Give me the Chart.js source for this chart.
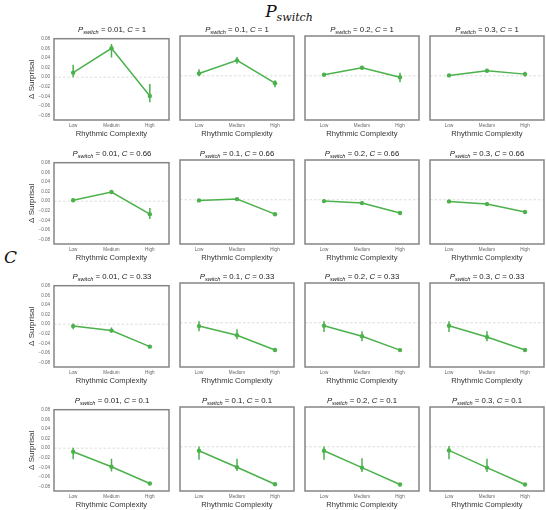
<!DOCTYPE html>
<html>
<head>
<meta charset="utf-8">
<script src="https://cdn.jsdelivr.net/npm/chart.js@4.4.1/dist/chart.umd.min.js"></script>
<style>
  body { margin: 0; background: #fff; }
  #fig { position: relative; width: 546px; height: 510px; overflow: hidden; font-family: "Liberation Sans", Arial, sans-serif; }
  #fig canvas { position: absolute; }
  .ttl { position: absolute; width: 140px; text-align: center; font-size: 7.8px; line-height: 10px; color: #222; white-space: nowrap; }
  .ttl sub { font-size: 5.6px; vertical-align: -2px; line-height: 0; }
  #supT { position: absolute; left: 229px; width: 120px; top: 0; text-align: center; font-family: "DejaVu Serif", serif; font-style: italic; font-size: 17px; line-height: 22px; color: #111; }
  #supT sub { font-size: 11px; vertical-align: -4px; line-height: 0; }
  #supL { position: absolute; left: 4px; top: 246px; font-family: "DejaVu Serif", serif; font-style: italic; font-size: 17px; line-height: 22px; color: #111; }
</style>
</head>
<body>
<div id="fig">
  <div id="supT">P<sub>switch</sub></div>
  <div id="supL">C</div>
</div>
<script>
const categories = ['Low', 'Medium', 'High'];
const pSwitch = ['0.01', '0.1', '0.2', '0.3'];
const cValues = ['1', '0.66', '0.33', '0.1'];
const yTicks = [0.08, 0.06, 0.04, 0.02, 0, -0.02, -0.04, -0.06, -0.08];

// one inner list per P_switch column: Low, Medium, High
const meanC1 = [[0.0094, 0.060, -0.039], [0.0047, 0.031, -0.015], [0.002, 0.016, -0.003], [0.0007, 0.010, 0.0033]];
const loC1   = [[0.0, 0.041, -0.052], [-0.001, 0.024, -0.023], [0.0, 0.014, -0.013], [-0.001, 0.008, -0.002]];
const hiC1   = [[0.026, 0.069, -0.014], [0.013, 0.038, -0.009], [0.004, 0.018, 0.006], [0.002, 0.012, 0.008]];

const meanC066 = [[0.002, 0.019, -0.027], [-0.0013, 0.0013, -0.029], [-0.0027, -0.0067, -0.0267], [-0.0033, -0.0087, -0.0247]];
const loC066   = [[-0.001, 0.017, -0.037], [-0.003, -0.001, -0.032], [-0.0057, -0.0097, -0.029], [-0.006, -0.012, -0.027]];
const hiC066   = [[0.006, 0.021, -0.014], [0.0005, 0.003, -0.026], [0.0003, -0.0037, -0.0245], [-0.0005, -0.0055, -0.0225]];

const meanC033 = [[-0.004, -0.0133, -0.0467], [-0.0067, -0.025, -0.0547], [-0.006, -0.027, -0.055], [-0.006, -0.0287, -0.0547]];
const loC033   = [[-0.0107, -0.0173, -0.049], [-0.0173, -0.033, -0.057], [-0.0187, -0.037, -0.057], [-0.0187, -0.0373, -0.057]];
const hiC033   = [[0.0013, -0.0067, -0.0445], [0.003, -0.0133, -0.0525], [0.003, -0.017, -0.053], [0.003, -0.017, -0.0525]];

const meanC01 = [[-0.0073, -0.0387, -0.0733], [-0.008, -0.0413, -0.0753], [-0.008, -0.042, -0.076], [-0.0073, -0.042, -0.076]];
const loC01   = [[-0.023, -0.0487, -0.0755], [-0.026, -0.049, -0.0775], [-0.026, -0.0507, -0.078], [-0.0253, -0.0507, -0.078]];
const hiC01   = [[0.0007, -0.022, -0.071], [0.0007, -0.024, -0.073], [0.0007, -0.0233, -0.074], [0.0013, -0.024, -0.074]];

const rows = [
    { mean: meanC1, lo: loC1, hi: hiC1 },
    { mean: meanC066, lo: loC066, hi: hiC066 },
    { mean: meanC033, lo: loC033, hi: hiC033 },
    { mean: meanC01, lo: loC01, hi: hiC01 },
];

const boxLeft = [54, 179, 304, 429];
const boxTop = [36, 160, 283, 407];
const boxW = 116, boxH = 84;
const padTop = 4, padRight = 3, xAxisH = 22;
const green = '#4bb14b';

const frame = {
    id: 'frame',
    afterDatasetsDraw(chart) {
        const { ctx, chartArea: a } = chart;
        ctx.save();
        ctx.strokeStyle = '#858585';
        ctx.lineWidth = 1.5;
        ctx.strokeRect(a.left, a.top, a.right - a.left, a.bottom - a.top);
        ctx.restore();
    }
};

const fig = document.getElementById('fig');

function fmtY(v) {
    return (v < 0 ? '\u2212' : '') + Math.abs(v).toFixed(2);
}

function makePanel(r, c) {
    const first = c === 0;
    const yAxisW = first ? 54 : 3;
    const canvas = document.createElement('canvas');
    canvas.width = yAxisW + boxW + padRight;
    canvas.height = padTop + boxH + xAxisH;
    canvas.style.left = (boxLeft[c] - yAxisW) + 'px';
    canvas.style.top = (boxTop[r] - padTop) + 'px';
    fig.appendChild(canvas);

    const ttl = document.createElement('div');
    ttl.className = 'ttl';
    ttl.style.left = (boxLeft[c] + boxW / 2 - 70) + 'px';
    ttl.style.top = (boxTop[r] - 11) + 'px';
    ttl.innerHTML = `<i>P</i><sub><i>switch</i></sub> = ${pSwitch[c]}, <i>C</i> = ${cValues[r]}`;
    fig.appendChild(ttl);

    const row = rows[r];
    const mean = row.mean[c], lo = row.lo[c], hi = row.hi[c];

    const datasets = [{
        data: categories.map((_, i) => ({ x: i, y: mean[i] })),
        showLine: true,
        borderColor: green,
        backgroundColor: green,
        borderWidth: 1.5,
        pointRadius: 2.2,
        pointBorderWidth: 0,
    }];
    categories.forEach((_, i) => {
        datasets.push({
            data: [{ x: i, y: lo[i] }, { x: i, y: hi[i] }],
            showLine: true,
            borderColor: green,
            borderWidth: 1.5,
            pointRadius: 0,
        });
    });
    datasets.push({
        data: [{ x: -0.5, y: 0 }, { x: 2.5, y: 0 }],
        showLine: true,
        borderColor: '#d4d4d4',
        borderWidth: 0.8,
        borderDash: [2.5, 2],
        pointRadius: 0,
    });

    new Chart(canvas, {
        type: 'scatter',
        data: { datasets },
        options: {
            responsive: false,
            animation: false,
            devicePixelRatio: 1,
            layout: { padding: { top: padTop, right: padRight, left: 0, bottom: 0 } },
            plugins: { legend: { display: false }, tooltip: { enabled: false } },
            scales: {
                x: {
                    type: 'linear',
                    min: -0.5,
                    max: 2.5,
                    grid: { display: false, drawTicks: false },
                    border: { display: false },
                    afterBuildTicks: (scale) => { scale.ticks = categories.map((_, i) => ({ value: i })); },
                    afterFit: (scale) => { scale.height = xAxisH; },
                    ticks: {
                        autoSkip: false, maxRotation: 0, minRotation: 0, padding: 3,
                        font: { size: 4.6, family: 'Liberation Sans' }, color: '#666',
                        callback: (v) => categories[v],
                    },
                    title: {
                        display: true, text: 'Rhythmic Complexity', color: '#333',
                        font: { size: 7.6, family: 'Liberation Sans' },
                        padding: { top: 0, bottom: 3.5 },
                    },
                },
                y: {
                    min: -0.089,
                    max: 0.08,
                    grid: { display: false, drawTicks: false },
                    border: { display: false },
                    afterBuildTicks: (scale) => { scale.ticks = yTicks.map(v => ({ value: v })); },
                    afterFit: (scale) => { scale.width = yAxisW; },
                    ticks: {
                        display: first, padding: 4,
                        font: { size: 4.5, family: 'Liberation Sans' }, color: '#666',
                        callback: (v) => fmtY(v),
                    },
                    title: {
                        display: first, text: '\u0394 Surprisal', color: '#333',
                        font: { size: 8, family: 'Liberation Sans' },
                        padding: { top: 27, bottom: 0 },
                    },
                },
            },
        },
        plugins: [frame],
    });
}

for (let r = 0; r < 4; r++) {
    for (let c = 0; c < 4; c++) {
        makePanel(r, c);
    }
}
</script>
</body>
</html>
